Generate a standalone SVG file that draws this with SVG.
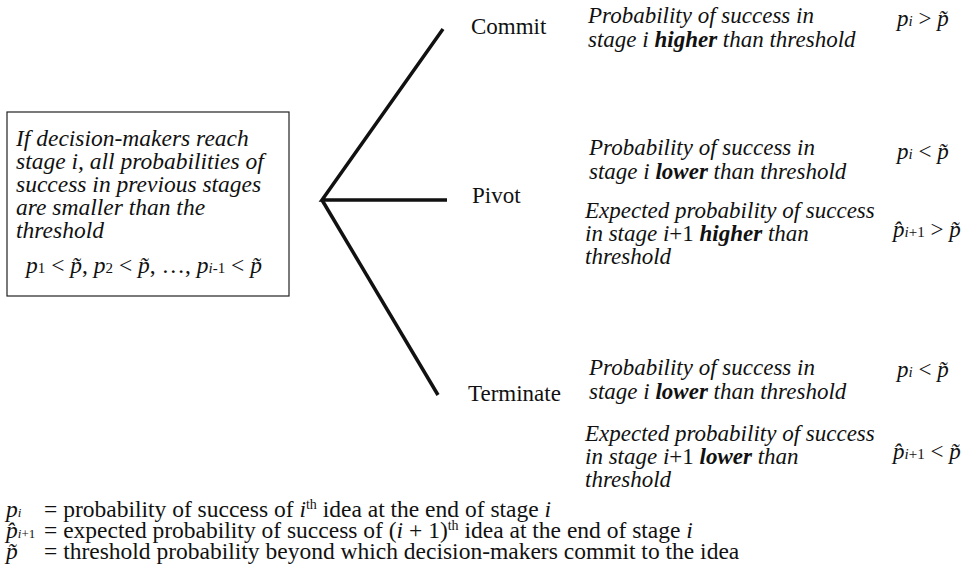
<svg xmlns="http://www.w3.org/2000/svg" width="975" height="567" viewBox="0 0 975 567">
<style>
text{font-family:"Liberation Serif","Times New Roman",serif;fill:#111;font-size:23px}
.box{font-size:23.5px}
.leg{font-size:23.5px}
.it{font-style:italic}
.bi{font-style:italic;font-weight:bold}
.up{font-style:normal}
.sub{font-size:15px;font-style:normal}
.subi{font-size:15px;font-style:italic}
.lsub{font-size:13px;font-style:normal}
.lsubi{font-size:13px;font-style:italic}
.sup{font-size:14px;font-style:normal}
.br{stroke:#111;stroke-width:3.5;fill:none}
</style>
<rect width="975" height="567" fill="#fff"/>
<g id="premise">
<rect x="7" y="112" width="282" height="184" fill="#fff" stroke="#222" stroke-width="1.2"/>
<text class="box it" x="16" y="146">If decision-makers reach</text>
<text class="box it" x="16" y="169">stage i, all probabilities of</text>
<text class="box it" x="16" y="192">success in previous stages</text>
<text class="box it" x="16" y="215">are smaller than the</text>
<text class="box it" x="16" y="238">threshold</text>
<text class="box" x="26" y="273"><tspan class="it">p</tspan><tspan class="sub">1</tspan><tspan> &lt; </tspan><tspan class="it">p̃</tspan><tspan>, </tspan><tspan class="it">p</tspan><tspan class="sub">2</tspan><tspan> &lt; </tspan><tspan class="it">p̃</tspan><tspan>, …, </tspan><tspan class="it">p</tspan><tspan class="subi">i</tspan><tspan class="sub">-1</tspan><tspan> &lt; </tspan><tspan class="it">p̃</tspan></text>
</g>
<g id="connectors">
<polyline class="br" points="443,29 322,200 447,200"/>
<line class="br" x1="322" y1="200" x2="438" y2="395"/>
</g>
<g id="commit">
<text x="471" y="34">Commit</text>
<text class="it" x="588" y="23">Probability of success in</text>
<text class="it" x="588" y="47">stage i <tspan class="bi">higher</tspan> than threshold</text>
<text x="897" y="26"><tspan class="it">p</tspan><tspan class="subi">i</tspan><tspan> &gt; </tspan><tspan class="it">p̃</tspan></text>
</g>
<g id="pivot">
<text x="472" y="203">Pivot</text>
<text class="it" x="589" y="155">Probability of success in</text>
<text class="it" x="589" y="179">stage i <tspan class="bi">lower</tspan> than threshold</text>
<text class="it" x="585" y="218">Expected probability of success</text>
<text class="it" x="585" y="241">in stage <tspan>i</tspan><tspan class="up">+1</tspan> <tspan class="bi">higher</tspan> than</text>
<text class="it" x="585" y="264">threshold</text>
<text x="897" y="159"><tspan class="it">p</tspan><tspan class="subi">i</tspan><tspan> &lt; </tspan><tspan class="it">p̃</tspan></text>
<text x="893" y="237"><tspan class="it">p̂</tspan><tspan class="subi">i</tspan><tspan class="sub">+1</tspan><tspan> &gt; </tspan><tspan class="it">p̃</tspan></text>
</g>
<g id="terminate">
<text x="468" y="401">Terminate</text>
<text class="it" x="589" y="375">Probability of success in</text>
<text class="it" x="589" y="399">stage i <tspan class="bi">lower</tspan> than threshold</text>
<text class="it" x="585" y="441">Expected probability of success</text>
<text class="it" x="585" y="464">in stage <tspan>i</tspan><tspan class="up">+1</tspan> <tspan class="bi">lower</tspan> than</text>
<text class="it" x="585" y="487">threshold</text>
<text x="897" y="377"><tspan class="it">p</tspan><tspan class="subi">i</tspan><tspan> &lt; </tspan><tspan class="it">p̃</tspan></text>
<text x="893" y="459"><tspan class="it">p̂</tspan><tspan class="subi">i</tspan><tspan class="sub">+1</tspan><tspan> &lt; </tspan><tspan class="it">p̃</tspan></text>
</g>
<g id="legend">
<text class="leg" x="6" y="517"><tspan class="it">p</tspan><tspan class="lsubi">i</tspan></text>
<text class="leg" x="44" y="517">= probability of success of <tspan class="it">i</tspan><tspan class="sup" dy="-8">th</tspan><tspan dy="8"> idea at the end of stage </tspan><tspan class="it">i</tspan></text>
<text class="leg" x="6" y="538"><tspan class="it">p̂</tspan><tspan class="lsubi">i</tspan><tspan class="lsub">+1</tspan></text>
<text class="leg" x="44" y="538">= expected probability of success of (<tspan class="it">i</tspan> + 1)<tspan class="sup" dy="-8">th</tspan><tspan dy="8"> idea at the end of stage </tspan><tspan class="it">i</tspan></text>
<text class="leg" x="6" y="559"><tspan class="it">p̃</tspan></text>
<text class="leg" x="44" y="559">= threshold probability beyond which decision-makers commit to the idea</text>
</g>
</svg>
